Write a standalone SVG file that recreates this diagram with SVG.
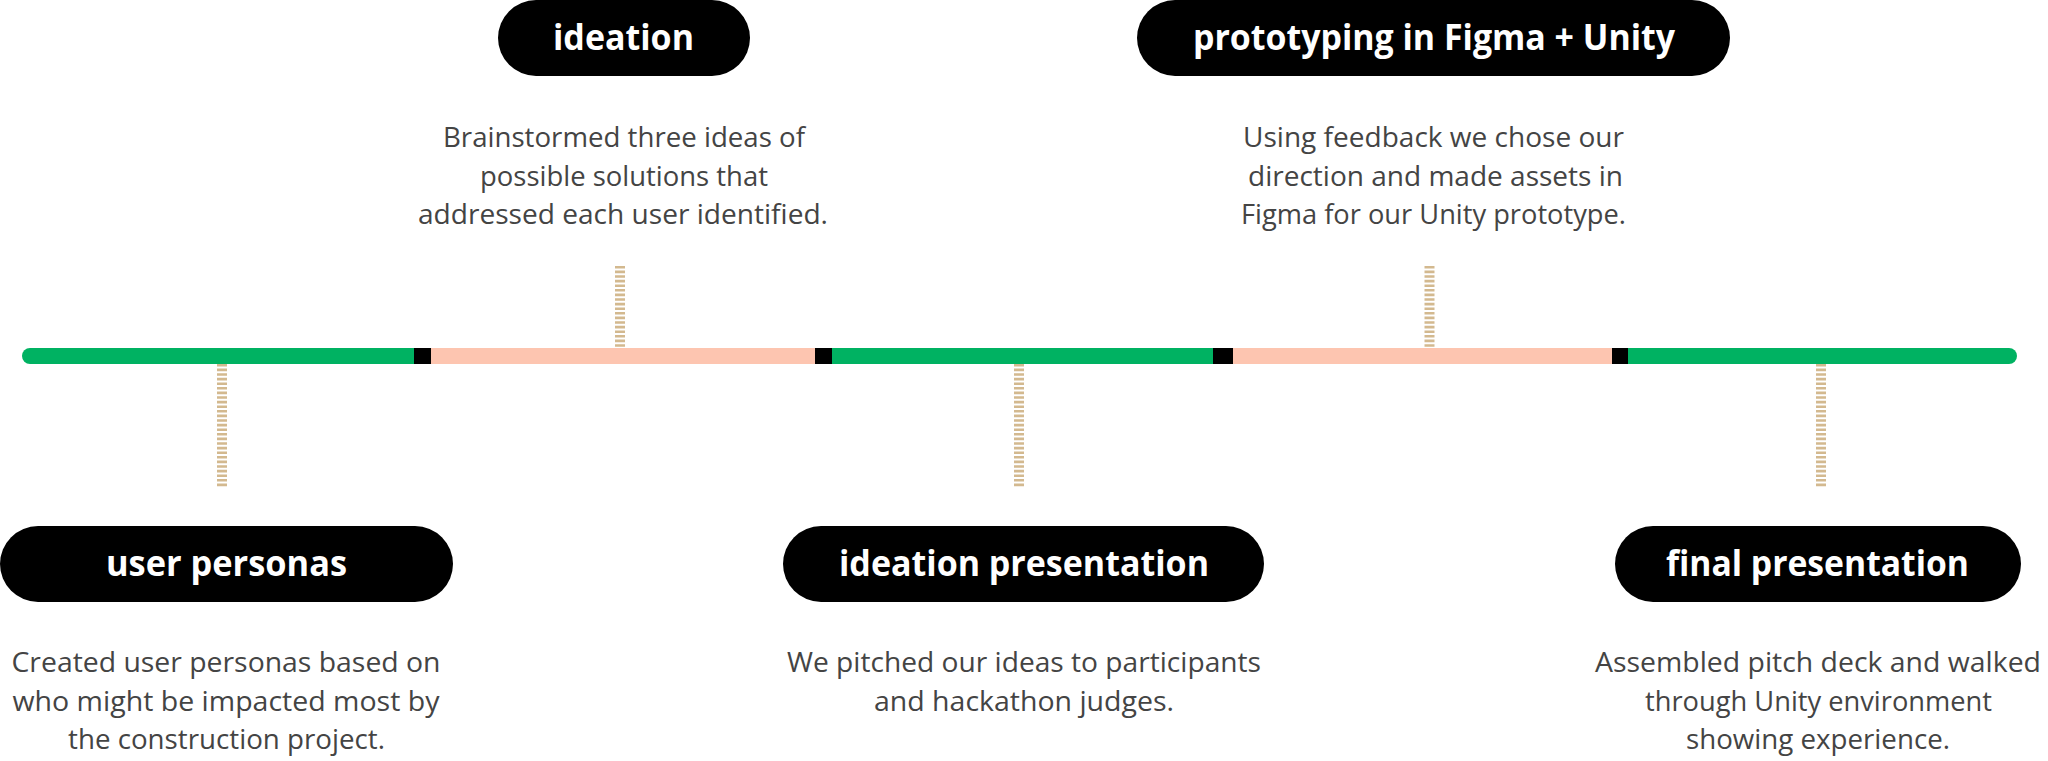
<svg xmlns="http://www.w3.org/2000/svg" width="2048" height="761" viewBox="0 0 2048 761">
  <style>
    .pill { fill: #000000; }
    .ptxt { font-family: "Open Sans", "Liberation Sans", sans-serif; font-weight: 700; font-size: 35px; fill: #ffffff; text-anchor: middle; }
    .body { font-family: "Open Sans", "Liberation Sans", sans-serif; font-weight: 400; font-size: 27px; fill: #444444; text-anchor: middle; }
    .dash { stroke: #d3b98f; stroke-width: 10; stroke-dasharray: 2.6 2; fill: none; }
    .green { fill: #00b262; }
    .peach { fill: #fdc5b0; }
    .mark { fill: #000000; }
  </style>
  <rect x="0" y="0" width="2048" height="761" fill="#ffffff"/>

  <g id="timeline">
    <rect class="green" x="22" y="348" width="400" height="16" rx="8"/>
    <rect class="green" x="30" y="348" width="390" height="16"/>
    <rect class="peach" x="431" y="348" width="384" height="16"/>
    <rect class="green" x="832" y="348" width="381" height="16"/>
    <rect class="peach" x="1233" y="348" width="379" height="16"/>
    <rect class="green" x="1620" y="348" width="397" height="16" rx="8"/>
    <rect class="green" x="1620" y="348" width="380" height="16"/>
    <rect class="mark" x="414" y="348" width="17" height="16"/>
    <rect class="mark" x="815" y="348" width="17" height="16"/>
    <rect class="mark" x="1213" y="348" width="20" height="16"/>
    <rect class="mark" x="1612" y="348" width="16" height="16"/>
  </g>

  <g id="connectors">
    <line class="dash" x1="222" y1="364" x2="222" y2="487"/>
    <line class="dash" x1="620" y1="266" x2="620" y2="348"/>
    <line class="dash" x1="1019" y1="364" x2="1019" y2="487"/>
    <line class="dash" x1="1429.5" y1="266" x2="1429.5" y2="348"/>
    <line class="dash" x1="1821" y1="364" x2="1821" y2="487"/>
  </g>

  <g id="node-user-personas">
    <rect class="pill" x="0" y="526" width="453" height="76" rx="38"/>
    <text class="ptxt" x="226.5" y="576" textLength="241" lengthAdjust="spacingAndGlyphs">user personas</text>
    <text class="body" x="226" y="672" textLength="429" lengthAdjust="spacingAndGlyphs">Created user personas based on</text>
    <text class="body" x="226" y="710.5" textLength="427" lengthAdjust="spacingAndGlyphs">who might be impacted most by</text>
    <text class="body" x="226.5" y="749" textLength="317" lengthAdjust="spacingAndGlyphs">the construction project.</text>
  </g>

  <g id="node-ideation">
    <rect class="pill" x="498" y="0" width="252" height="76" rx="38"/>
    <text class="ptxt" x="623.5" y="50" textLength="141" lengthAdjust="spacingAndGlyphs">ideation</text>
    <text class="body" x="624" y="147" textLength="362" lengthAdjust="spacingAndGlyphs">Brainstormed three ideas of</text>
    <text class="body" x="624" y="185.5" textLength="288" lengthAdjust="spacingAndGlyphs">possible solutions that</text>
    <text class="body" x="623" y="224" textLength="410" lengthAdjust="spacingAndGlyphs">addressed each user identified.</text>
  </g>

  <g id="node-ideation-presentation">
    <rect class="pill" x="783" y="526" width="481" height="76" rx="38"/>
    <text class="ptxt" x="1024" y="576" textLength="370" lengthAdjust="spacingAndGlyphs">ideation presentation</text>
    <text class="body" x="1024" y="672" textLength="474" lengthAdjust="spacingAndGlyphs">We pitched our ideas to participants</text>
    <text class="body" x="1024" y="710.5" textLength="300" lengthAdjust="spacingAndGlyphs">and hackathon judges.</text>
  </g>

  <g id="node-prototyping">
    <rect class="pill" x="1137" y="0" width="593" height="76" rx="38"/>
    <text class="ptxt" x="1434" y="50" textLength="482" lengthAdjust="spacingAndGlyphs">prototyping in Figma + Unity</text>
    <text class="body" x="1433.5" y="147" textLength="381" lengthAdjust="spacingAndGlyphs">Using feedback we chose our</text>
    <text class="body" x="1435.5" y="185.5" textLength="375" lengthAdjust="spacingAndGlyphs">direction and made assets in</text>
    <text class="body" x="1433.5" y="224" textLength="385" lengthAdjust="spacingAndGlyphs">Figma for our Unity prototype.</text>
  </g>

  <g id="node-final-presentation">
    <rect class="pill" x="1615" y="526" width="406" height="76" rx="38"/>
    <text class="ptxt" x="1817.5" y="576" textLength="303" lengthAdjust="spacingAndGlyphs">final presentation</text>
    <text class="body" x="1818" y="672" textLength="446" lengthAdjust="spacingAndGlyphs">Assembled pitch deck and walked</text>
    <text class="body" x="1818.5" y="710.5" textLength="347" lengthAdjust="spacingAndGlyphs">through Unity environment</text>
    <text class="body" x="1818" y="749" textLength="264" lengthAdjust="spacingAndGlyphs">showing experience.</text>
  </g>
</svg>
